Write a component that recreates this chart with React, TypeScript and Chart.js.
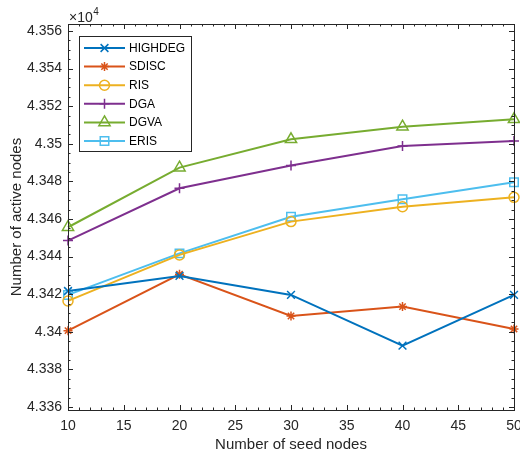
import React, { useEffect, useRef } from "react";
import { Chart, registerables } from "chart.js";
Chart.register(...registerables);

const seedNodes = [10, 20, 30, 40, 50];
const highdeg = [43421.7, 43429.7, 43419.6, 43392.6, 43419.6];
const sdisc = [43400.6, 43430.6, 43408.4, 43413.4, 43401.5];
const ris = [43416.4, 43440.9, 43458.6, 43466.5, 43471.5];
const dga = [43448.5, 43476.3, 43488.4, 43498.8, 43501.5];
const dgva = [43455.6, 43487.3, 43502.4, 43509.1, 43513.0];
const eris = [43419.6, 43441.7, 43461.2, 43470.5, 43479.5];

const seriesNames = ["HIGHDEG", "SDISC", "RIS", "DGA", "DGVA", "ERIS"];
const seriesValues = [highdeg, sdisc, ris, dga, dgva, eris];
const seriesColors = ["#0072BD", "#D95319", "#EDB120", "#7E2F8E", "#77AC30", "#4DBEEE"];
const seriesMarkers = ["crossRot", "star", "circle", "cross", "triangle", "rect"];
const markerRadius = [5.5, 4.5, 5, 5, 6.5, 6];

const xTicks = [10, 15, 20, 25, 30, 35, 40, 45, 50];
const yTicks = [43360, 43380, 43400, 43420, 43440, 43460, 43480, 43500, 43520, 43540, 43560];
const xMin = 10;
const xMax = 50;
const yMin = 43358.4;
const yMax = 43563.7;

const FONT = "'Liberation Sans', Arial, Helvetica, sans-serif";
const AXIS = "#262626";

function drawMarker(ctx: CanvasRenderingContext2D, style: string, x: number, y: number, r: number) {
  ctx.beginPath();
  const d = r * Math.SQRT1_2;
  switch (style) {
    case "crossRot":
      ctx.moveTo(x - d, y - d); ctx.lineTo(x + d, y + d);
      ctx.moveTo(x - d, y + d); ctx.lineTo(x + d, y - d);
      break;
    case "cross":
      ctx.moveTo(x - r, y); ctx.lineTo(x + r, y);
      ctx.moveTo(x, y - r); ctx.lineTo(x, y + r);
      break;
    case "star":
      ctx.moveTo(x - r, y); ctx.lineTo(x + r, y);
      ctx.moveTo(x, y - r); ctx.lineTo(x, y + r);
      ctx.moveTo(x - d, y - d); ctx.lineTo(x + d, y + d);
      ctx.moveTo(x - d, y + d); ctx.lineTo(x + d, y - d);
      break;
    case "circle":
      ctx.arc(x, y, r, 0, Math.PI * 2);
      break;
    case "triangle": {
      for (let k = 0; k < 3; k++) {
        const a = -Math.PI / 2 + (k * 2 * Math.PI) / 3;
        const px = x + Math.cos(a) * r;
        const py = y + Math.sin(a) * r;
        if (k === 0) ctx.moveTo(px, py); else ctx.lineTo(px, py);
      }
      ctx.closePath();
      break;
    }
    case "rect":
      ctx.rect(x - d, y - d, 2 * d, 2 * d);
      break;
  }
  ctx.stroke();
}

const decorPlugin = {
  id: "decor",
  afterDatasetsDraw(chart: any) {
    const { ctx, chartArea } = chart;
    const { left, right, top, bottom } = chartArea;
    const xs = chart.scales.x;
    const ys = chart.scales.y;
    ctx.save();
    ctx.strokeStyle = AXIS;
    ctx.lineWidth = 1;
    ctx.strokeRect(Math.round(left) + 0.5, Math.round(top) + 0.5, Math.round(right - left), Math.round(bottom - top));
    const xMinorStep = (xTicks[1] - xTicks[0]) / 5;
    ctx.beginPath();
    for (let v = xMin; v <= xMax + 1e-9; v += xMinorStep) {
      const major = xTicks.some((t) => Math.abs(t - v) < 1e-6);
      const len = major ? 5 : 2.5;
      const px = Math.round(xs.getPixelForValue(v)) + 0.5;
      ctx.moveTo(px, bottom); ctx.lineTo(px, bottom - len);
      ctx.moveTo(px, top); ctx.lineTo(px, top + len);
    }
    const yMinorStep = (yTicks[1] - yTicks[0]) / 4;
    for (let v = yTicks[0]; v <= yMax; v += yMinorStep) {
      const major = yTicks.some((t) => Math.abs(t - v) < 1e-6);
      const len = major ? 5 : 2.5;
      const py = Math.round(ys.getPixelForValue(v)) + 0.5;
      ctx.moveTo(left, py); ctx.lineTo(left + len, py);
      ctx.moveTo(right, py); ctx.lineTo(right - len, py);
    }
    ctx.stroke();

    // x tick labels
    ctx.fillStyle = AXIS;
    ctx.font = `14px ${FONT}`;
    ctx.textAlign = "center";
    ctx.textBaseline = "middle";
    xTicks.forEach((v) => {
      ctx.fillText(String(v), xs.getPixelForValue(v), bottom + 16.5);
    });

    // exponent label
    ctx.textBaseline = "alphabetic";
    ctx.textAlign = "left";
    ctx.font = `14px ${FONT}`;
    ctx.fillText("\u00d710", 69, 22);
    const w = ctx.measureText("\u00d710").width;
    ctx.font = `10px ${FONT}`;
    ctx.fillText("4", 69 + w + 0.5, 15);

    // legend
    const bx = 79.5, by = 36.5, bw = 112, bh = 115;
    ctx.fillStyle = "#ffffff";
    ctx.fillRect(bx, by, bw, bh);
    ctx.strokeStyle = AXIS;
    ctx.lineWidth = 1;
    ctx.strokeRect(bx, by, bw, bh);
    ctx.font = `12px ${FONT}`;
    ctx.textBaseline = "middle";
    chart.data.datasets.forEach((ds: any, i: number) => {
      const yy = 48 + i * 18.6;
      ctx.strokeStyle = ds.borderColor;
      ctx.lineWidth = 2;
      ctx.beginPath();
      ctx.moveTo(84, yy); ctx.lineTo(125, yy);
      ctx.stroke();
      ctx.lineWidth = 1.5;
      drawMarker(ctx, ds.pointStyle, 104.5, yy, ds.pointRadius);
      ctx.fillStyle = "#000000";
      ctx.fillText(ds.label, 129, yy + 0.5);
    });
    ctx.restore();
  },
};

export default function App() {
  const canvasRef = useRef<HTMLCanvasElement | null>(null);

  useEffect(() => {
    document.body.style.margin = "0";
    const canvas = canvasRef.current;
    if (!canvas) return;
    const chart = new Chart(canvas, {
      type: "line",
      data: {
        datasets: seriesNames.map((name, i) => ({
          label: name,
          data: seedNodes.map((x, j) => ({ x, y: seriesValues[i][j] })),
          borderColor: seriesColors[i],
          backgroundColor: seriesColors[i],
          borderWidth: 2,
          pointStyle: seriesMarkers[i] as any,
          pointRadius: markerRadius[i],
          pointBorderWidth: 1.5,
          pointBorderColor: seriesColors[i],
          pointBackgroundColor: "rgba(0,0,0,0)",
          pointHoverRadius: markerRadius[i],
          tension: 0,
          clip: false as any,
        })),
      },
      options: {
        animation: false,
        responsive: true,
        maintainAspectRatio: false,
        layout: { autoPadding: false, padding: { top: 24, right: 6, left: 0, bottom: 0 } },
        plugins: {
          legend: { display: false },
          tooltip: { enabled: false },
        },
        scales: {
          x: {
            type: "linear",
            min: xMin,
            max: xMax,
            afterBuildTicks: (s: any) => {
              s.ticks = xTicks.map((v) => ({ value: v }));
            },
            grid: { display: false, drawTicks: false },
            border: { display: false },
            ticks: { display: false },
            title: {
              display: true,
              text: "Number of seed nodes",
              color: AXIS,
              font: { family: FONT, size: 15 },
              padding: { top: 0, bottom: 3 },
            },
            afterFit: (s: any) => {
              s.height = 47;
              s.paddingLeft = 0;
              s.paddingRight = 0;
            },
          },
          y: {
            type: "linear",
            min: yMin,
            max: yMax,
            afterBuildTicks: (s: any) => {
              s.ticks = yTicks.map((v) => ({ value: v }));
            },
            grid: { display: false, drawTicks: false },
            border: { display: false },
            ticks: {
              color: AXIS,
              font: { family: FONT, size: 14 },
              padding: 6,
              callback: (v: any) => String(Number((Number(v) / 1e4).toFixed(3))),
            },
            title: {
              display: true,
              text: "Number of active nodes",
              color: AXIS,
              font: { family: FONT, size: 15 },
              padding: { top: 8, bottom: 0 },
            },
            afterFit: (s: any) => {
              s.width = 68;
              s.paddingTop = 0;
              s.paddingBottom = 0;
            },
          },
        },
      },
      plugins: [decorPlugin],
    });
    return () => chart.destroy();
  }, []);

  return (
    <div style={{ width: 520, height: 457, position: "relative" }}>
      <canvas ref={canvasRef} />
    </div>
  );
}
